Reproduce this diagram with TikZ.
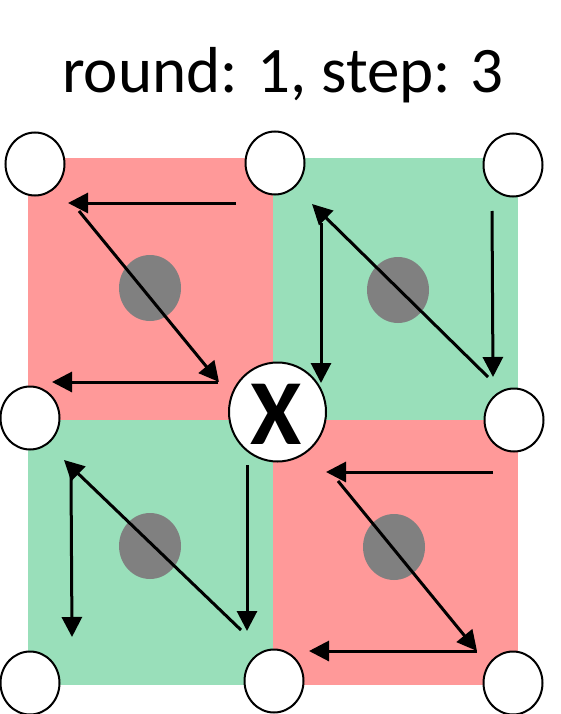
\documentclass[tikz,border=0pt]{standalone}
\usepackage{fontspec}
\setmainfont{Carlito}
\usetikzlibrary{arrows.meta,shapes.geometric}
\definecolor{redsq}{HTML}{FF9999}
\definecolor{greensq}{HTML}{99DFBA}
\definecolor{dotgray}{HTML}{808080}
\begin{document}
\begin{tikzpicture}[x=1pt,y=-1pt,
  corner/.style={ellipse,draw=black,line width=2pt,fill=white,minimum width=59pt,minimum height=63pt,inner sep=0pt},
  bigcorner/.style={ellipse,draw=black,line width=2pt,fill=white,minimum width=97pt,minimum height=99pt,inner sep=0pt},
  dot/.style={ellipse,fill=dotgray,minimum width=62pt,minimum height=66pt,inner sep=0pt},
  mv/.style={line width=3pt,-{Triangle[length=20pt,width=20pt]}},
  ln/.style={line width=3pt}]
\useasboundingbox (0,0) rectangle (560,714);
% title
\node[anchor=base,inner sep=0pt,font=\fontsize{65}{70}\selectfont] (title) at (283,93) {round: 1, step: 3};
% squares
\fill[redsq] (28,158) rectangle (273,420);
\fill[greensq] (273,158) rectangle (518,420);
\fill[greensq] (28,420) rectangle (273,685);
\fill[redsq] (273,420) rectangle (518,685);
% gray dots
\node[dot] (d1) at (150,288) {};
\node[dot] (d2) at (398,290) {};
\node[dot] (d3) at (150,546) {};
\node[dot] (d4) at (394,547) {};
% arrow coordinates: top-left (red)
\coordinate (a1s) at (236,203); \coordinate (a1e) at (68,203);
\coordinate (a2s) at (79,211); \coordinate (a2e) at (219,382);
\coordinate (a3s) at (218,382); \coordinate (a3e) at (52,382);
\draw[mv] (a1s) -- (a1e);
\draw[mv] (a2s) -- (a2e);
\draw[mv] (a3s) -- (a3e);
% top-right (green)
\coordinate (b1s) at (492,211); \coordinate (b1e) at (493,377);
\coordinate (b2s) at (488,377); \coordinate (b2e) at (312,204);
\coordinate (b3s) at (321,223); \coordinate (b3e) at (321,383);
\draw[mv] (b1s) -- (b1e);
\draw[mv] (b2s) -- (b2e);
\draw[mv] (b3s) -- (b3e);
% bottom-left (green)
\coordinate (c1s) at (247,465); \coordinate (c1e) at (247,631);
\coordinate (c2s) at (241,630); \coordinate (c2e) at (64,460);
\coordinate (c3s) at (71,475); \coordinate (c3e) at (72,637);
\draw[mv] (c1s) -- (c1e);
\draw[mv] (c2s) -- (c2e);
\draw[mv] (c3s) -- (c3e);
% bottom-right (red)
\coordinate (e1s) at (493,472); \coordinate (e1e) at (326,472);
\coordinate (e2s) at (338,481); \coordinate (e2e) at (477,651);
\coordinate (e3s) at (477,651); \coordinate (e3e) at (309,651);
\draw[mv] (e1s) -- (e1e);
\draw[mv] (e2s) -- (e2e);
\draw[mv] (e3s) -- (e3e);
% corner circles
\node[corner] (tl) at (35,164) {};
\node[corner] (tm) at (275,163) {};
\node[corner] (tr) at (513,165) {};
\node[corner] (ml) at (30,418) {};
\node[corner] (mr) at (514,420) {};
\node[corner] (bl) at (30,683) {};
\node[corner] (bm) at (274,681) {};
\node[corner] (br) at (513,683) {};
\node[bigcorner] (mm) at (277.5,412) {};
\node[inner sep=0pt,font=\bfseries\fontsize{93}{93}\selectfont] (xlabel) at (276,414) {X};
\end{tikzpicture}
\end{document}
